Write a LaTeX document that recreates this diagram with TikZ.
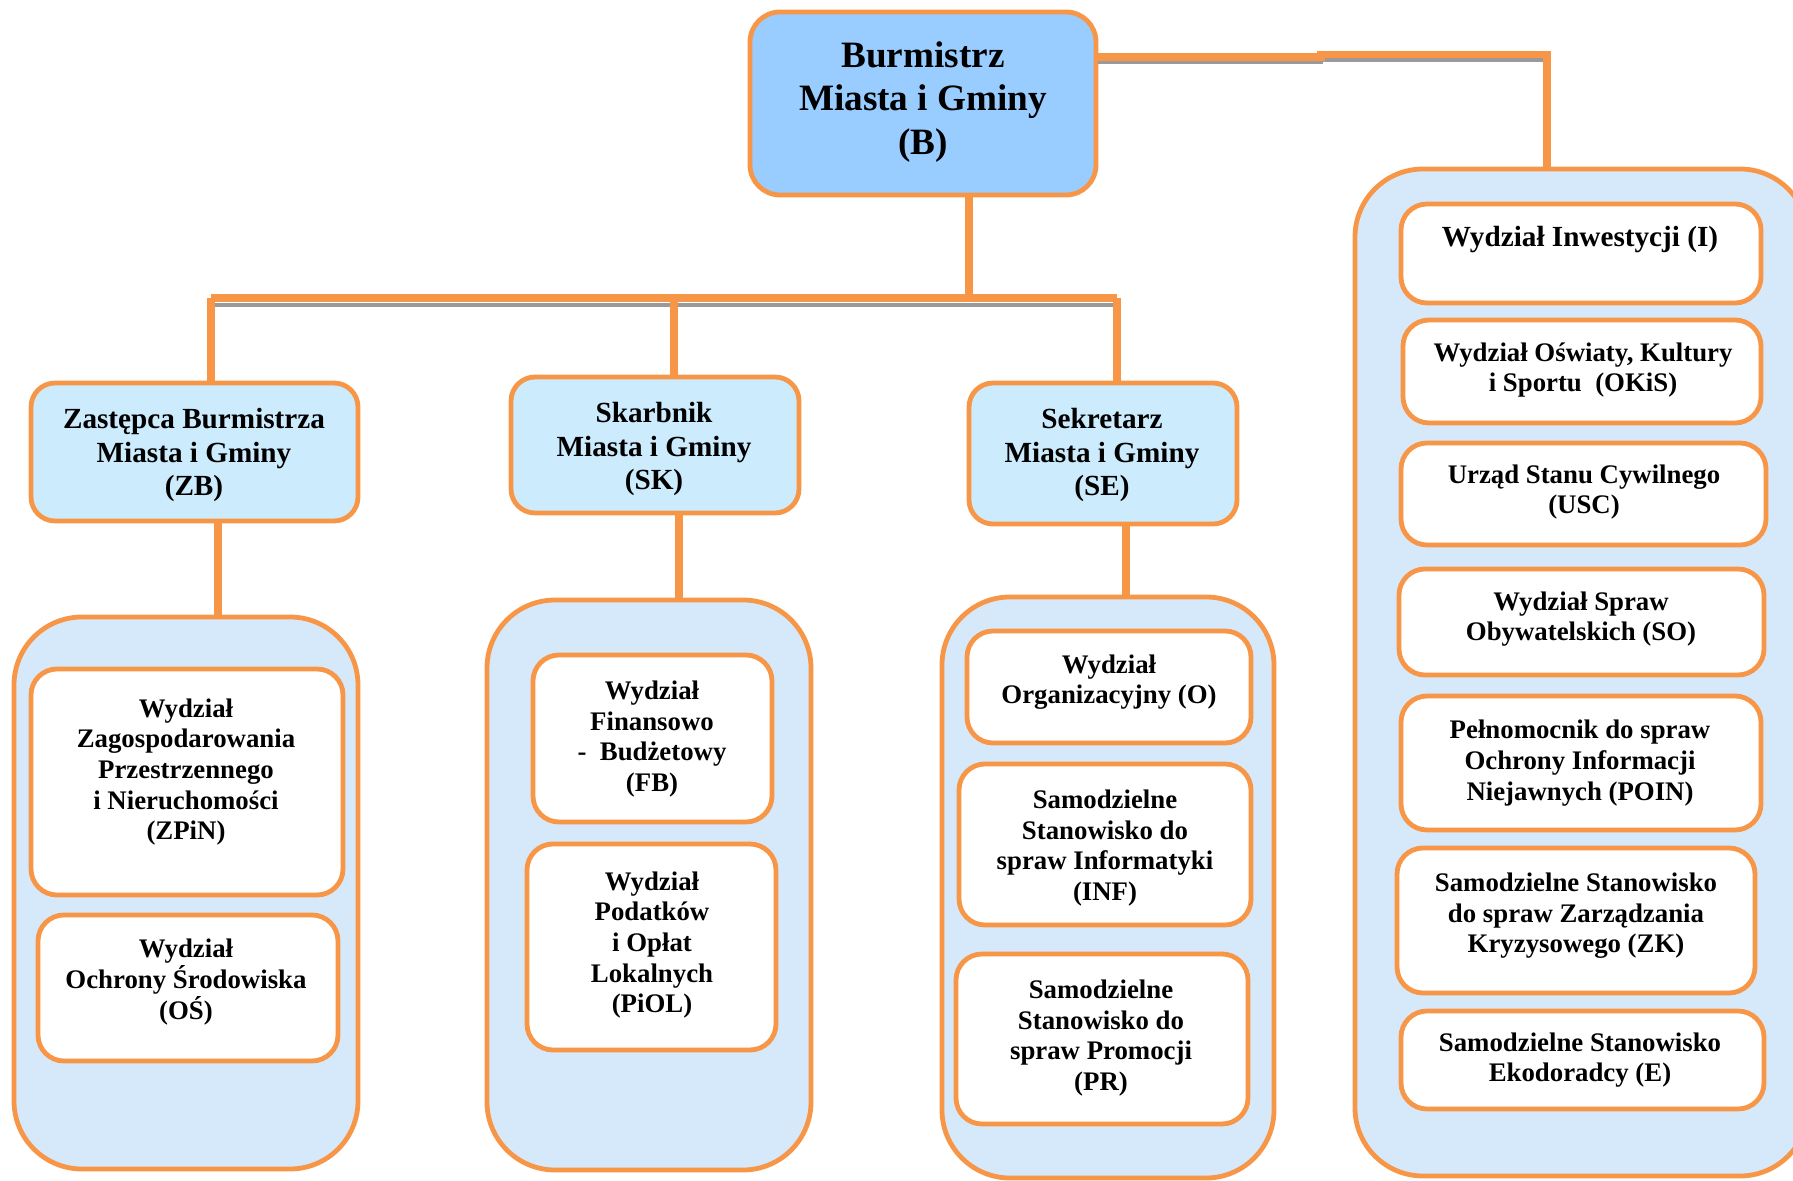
\documentclass[tikz,border=0pt]{standalone}
\usepackage{fontspec}
\setmainfont{Liberation Serif}
\usetikzlibrary{calc}
\definecolor{org}{HTML}{F79646}
\definecolor{topfill}{HTML}{99CCFF}
\definecolor{midfill}{HTML}{CCEBFD}
\definecolor{contfill}{HTML}{D6E9FB}
\definecolor{shad}{HTML}{9A9A9A}
\newcommand\bx[6]{\node[#6, minimum width={(#4-#2)*0.5pt}, minimum height={(#5-#3)*0.5pt}] (#1) at ({(#2+#4)/2},{(#3+#5)/2}) {};}
\begin{document}
\begin{tikzpicture}[x=0.5pt,y=-0.5pt,
  base/.style={draw=org, line width=2.4pt, inner sep=0pt, rectangle},
  topbox/.style={base, fill=topfill, rounded corners=15pt},
  midbox/.style={base, fill=midfill, rounded corners=12pt},
  contbox/.style={base, fill=contfill, rounded corners=34pt},
  inbox/.style={base, fill=white, rounded corners=13pt},
  conn/.style={draw=org, line width=3.8pt},
  shadowline/.style={draw=shad, line width=2.2pt},
  ttop/.style={align=center, inner sep=0pt, font=\bfseries\fontsize{18.6}{21.7}\selectfont},
  tmid/.style={align=center, inner sep=0pt, font=\bfseries\fontsize{14.6}{16.8}\selectfont},
  tin/.style={align=center, inner sep=0pt, font=\bfseries\fontsize{13.4}{15.3}\selectfont},
]
\useasboundingbox (0,0) rectangle (1793,1181);

% containers
\bx{cZB}{14}{617}{358}{1169}{contbox}
\bx{cSK}{487}{600}{811}{1170}{contbox}
\bx{cSE}{942}{597}{1274}{1178}{contbox}
\bx{cR}{1355}{169}{1808}{1176}{contbox}

% top and second level
\bx{B}{750}{12}{1096}{195}{topbox}
\bx{ZB}{31}{383}{358}{521}{midbox}
\bx{SK}{511}{377}{799}{513}{midbox}
\bx{SE}{969}{383}{1237}{524}{midbox}

% inner boxes
\bx{ZPiN}{31}{669}{343}{895}{inbox}
\bx{OS}{38}{915}{338}{1061}{inbox}
\bx{FB}{533}{655}{772}{822}{inbox}
\bx{PiOL}{527}{844}{776}{1050}{inbox}
\bx{O}{967}{631}{1251}{743}{inbox}
\bx{INF}{959}{764}{1251}{925}{inbox}
\bx{PR}{956}{954}{1248}{1124}{inbox}
\bx{I}{1401}{204}{1761}{303}{inbox}
\bx{OKiS}{1403}{320}{1761}{423}{inbox}
\bx{USC}{1401}{443}{1766}{545}{inbox}
\bx{SO}{1399}{569}{1764}{675}{inbox}
\bx{POIN}{1401}{696}{1761}{830}{inbox}
\bx{ZK}{1397}{848}{1755}{993}{inbox}
\bx{E}{1401}{1011}{1764}{1109}{inbox}

% coordinates for connectors
\coordinate (xB) at (969,0);
\coordinate (busL) at (211,298);
\coordinate (busM) at (969,298);
\coordinate (busR) at (1117,298);
\coordinate (dSK) at (674,298);
\coordinate (xR) at (1547,0);
\coordinate (xZB) at (218,0);
\coordinate (xSK) at (679,0);
\coordinate (xSE) at (1126,0);

% shadows
\draw[shadowline] (214,305) -- (1117,305);
\draw[shadowline] (1098,62) -- (1321,62) -- (1321,60) -- (1545,60);

% connectors
\draw[conn] (B.south -| xB) -- (busM);
\draw[conn] (busL) -- (busR);
\draw[conn] (busL) -- (busL |- ZB.north);
\draw[conn] (dSK) -- (dSK |- SK.north);
\draw[conn] (busR) -- (busR |- SE.north);
\draw[conn] (B.east |- 0,57) -- (1321,57) -- (1321,54.5) -- (1547,54.5) -- (cR.north -| xR);
\draw[conn] (ZB.south -| xZB) -- (cZB.north -| xZB);
\draw[conn] (SK.south -| xSK) -- (cSK.north -| xSK);
\draw[conn] (SE.south -| xSE) -- (cSE.north -| xSE);

% texts
\node[ttop] (tB) at (923,102) {Burmistrz\\Miasta i Gminy\\(B)};
\node[tmid] (tZB) at (194,455) {Zastępca Burmistrza\\Miasta i Gminy\\(ZB)};
\node[tmid] (tSK) at (654,449) {Skarbnik\\Miasta i Gminy\\(SK)};
\node[tmid] (tSE) at (1102,455) {Sekretarz\\Miasta i Gminy\\(SE)};

\node[tin] (tZPiN) at (186,772) {Wydział\\Zagospodarowania\\Przestrzennego\\i Nieruchomości\\(ZPiN)};
\node[tin] (tOS) at (186,982) {Wydział\\Ochrony Środowiska\\(OŚ)};
\node[tin] (tFB) at (652,739) {Wydział\\Finansowo\\-\ \ Budżetowy\\(FB)};
\node[tin] (tPiOL) at (652,945) {Wydział\\Podatków\\i Opłat\\Lokalnych\\(PiOL)};
\node[tin] (tO) at (1109,682) {Wydział\\Organizacyjny (O)};
\node[tin] (tINF) at (1105,848) {Samodzielne\\Stanowisko do\\spraw Informatyki\\(INF)};
\node[tin] (tPR) at (1101,1038) {Samodzielne\\Stanowisko do\\spraw Promocji\\(PR)};
\node[tin, font=\bfseries\fontsize{14.6}{16.8}\selectfont] (tI) at (1580,240) {Wydział Inwestycji (I)};
\node[tin] (tOKiS) at (1583,370) {Wydział Oświaty, Kultury\\i Sportu\ \ (OKiS)};
\node[tin] (tUSC) at (1584,492) {Urząd Stanu Cywilnego\\(USC)};
\node[tin] (tSO) at (1581,619) {Wydział Spraw\\Obywatelskich (SO)};
\node[tin] (tPOIN) at (1580,763) {Pełnomocnik do spraw\\Ochrony Informacji\\Niejawnych (POIN)};
\node[tin] (tZK) at (1576,916) {Samodzielne Stanowisko\\do spraw Zarządzania\\Kryzysowego (ZK)};
\node[tin] (tE) at (1580,1060) {Samodzielne Stanowisko\\Ekodoradcy (E)};
\end{tikzpicture}
\end{document}
